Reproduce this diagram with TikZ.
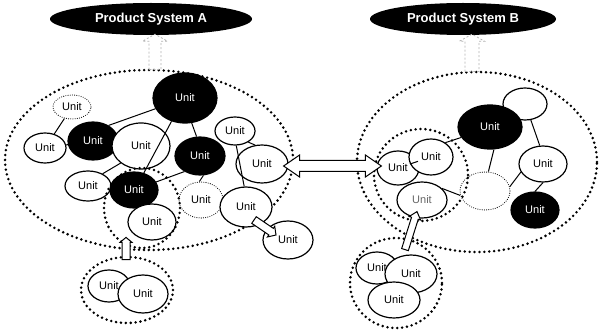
\documentclass[tikz,border=0pt]{standalone}
\usepackage{fontspec}
\setmainfont{Liberation Sans}
\usetikzlibrary{shapes.geometric,calc}
\newcommand\blkarrow[6]{%
  \coordinate (hbx) at ($(#2)!#5!(#1)$);
  \draw[#6] ($(#1)!#3!90:(#2)$) -- ($(hbx)!#3!90:(#2)$) -- ($(hbx)!#4!90:(#2)$) -- (#2)
    -- ($(hbx)!#4!-90:(#2)$) -- ($(hbx)!#3!-90:(#2)$) -- ($(#1)!#3!-90:(#2)$) -- cycle;}
\newcommand\dblarrow[6]{%
  \coordinate (hbx) at ($(#1)!#5!(#2)$);
  \coordinate (hby) at ($(#2)!#5!(#1)$);
  \draw[#6] (#1) -- ($(hbx)!#4!90:(#2)$) -- ($(hbx)!#3!90:(#2)$) -- ($(hby)!#3!90:(#2)$)
    -- ($(hby)!#4!90:(#2)$) -- (#2) -- ($(hby)!#4!-90:(#2)$) -- ($(hby)!#3!-90:(#2)$)
    -- ($(hbx)!#3!-90:(#2)$) -- ($(hbx)!#4!-90:(#2)$) -- cycle;}
\tikzset{
  sz/.style 2 args={minimum width=#1pt, minimum height=#2pt},
  unit/.style={ellipse, draw, line width=1.2pt, fill=white, inner sep=0pt,
    font=\fontsize{11}{11}\selectfont},
  bunit/.style={unit, fill=black, text=white},
  dunit/.style={unit, line width=1.1pt, dash pattern=on 0pt off 2.2pt, line cap=round},
  grp/.style={ellipse, draw, line width=2.8pt, dash pattern=on 0pt off 4.9pt,
    line cap=round, inner sep=0pt},
  psys/.style={ellipse, fill=black, text=white, inner sep=0pt,
    font=\bfseries\fontsize{13}{13}\selectfont},
  link/.style={line width=1pt},
  barrow/.style={draw, fill=white, line width=1pt, line join=miter},
  darrow/.style={draw=gray!60, line width=0.8pt, dash pattern=on 2pt off 2pt},
}
\begin{document}
\begin{tikzpicture}[x=1pt,y=-1pt]
\useasboundingbox (0,0) rectangle (602,331);
% product systems
\node[psys, sz={202}{32}] (pa) at (151,19) {Product System A};
\node[psys, sz={186}{32}] (pb) at (463,19) {Product System B};
% outer groups
\node[grp, sz={288}{180}] (ga) at (149,160) {};
\node[grp, sz={240}{180}] (gb) at (477,162) {};
\node[grp, sz={92}{66}] (gal) at (127,290) {};
\node[grp, sz={92}{90}] (gbl) at (396,283) {};
% units of system A
\node[dunit, sz={38}{24}] (a1) at (72,107) {Unit};
\node[unit, sz={42}{30}] (a2) at (45,148) {Unit};
\node[bunit, sz={50}{38}] (a3) at (93,141) {Unit};
\node[unit, sz={58}{46}] (a4) at (141,146) {Unit};
\node[bunit, sz={64}{50}] (a5) at (185,98) {Unit};
\node[bunit, sz={50}{38}] (a6) at (200,156) {Unit};
\node[unit, sz={40}{28}] (a7) at (235,131) {Unit};
\node[unit, sz={52}{38}] (a8) at (262,164) {Unit};
\node[unit, sz={46}{30}] (a9) at (88,186) {Unit};
\node[bunit, sz={48}{36}] (a10) at (134,190) {Unit};
\node[unit, sz={48}{36}] (a11) at (152,222) {Unit};
\node[dunit, sz={44}{36}] (a12) at (201,200) {Unit};
\node[unit, sz={52}{40}] (a13) at (246,207) {Unit};
\node[unit, sz={50}{38}] (a14) at (288,240) {Unit};
\node[unit, sz={42}{32}] (a15) at (109,286) {Unit};
\node[unit, sz={50}{38}] (a16) at (143,294) {Unit};
% units of system B
\node[unit, sz={44}{32}] (b4) at (525,104) {};
\node[bunit, sz={64}{44}] (b3) at (490,127) {Unit};
\node[unit, sz={42}{34}] (b1) at (398,168) {Unit};
\node[unit, sz={44}{36}] (b2) at (431,157) {Unit};
\node[unit, sz={48}{36}] (b5) at (543,164) {Unit};
\node[bunit, sz={48}{36}] (b6) at (535,210) {Unit};
\node[dunit, sz={50}{38}] (b7) at (485,191) {};
\node[unit, sz={50}{36}, text=black!60] (b8) at (422,200) {Unit};
\node[unit, sz={42}{32}] (c1) at (377,268) {Unit};
\node[unit, sz={52}{38}] (c2) at (411,274) {Unit};
\node[unit, sz={52}{36}] (c3) at (394,300) {Unit};
% inner groups
\node[grp, sz={76}{80}] (gai) at (142,208) {};
\node[grp, sz={94}{92}] (gbi) at (421,175) {};
% links in A
\draw[link] (a1) -- (a2);
\draw[link] (a2) -- (a3);
\draw[link] (a3.45) -- (a5.200);
\draw[link] (a5.240) -- (a10.60);
\draw[link] (a5.-75) -- (a6.100);
\draw[link] (a9.40) -- (a4.220);
\draw[link] (a10.20) -- (a6.225);
\draw[link] (a6.-80) -- (a12.95);
\draw[link] (a7.-40) -- (a8.110);
\draw[link] (a7.-85) -- (a13.95);
% links in B
\draw[link] (b1) -- (b2);
\draw[link] (b2.45) -- (b3.200);
\draw[link] (b3.-80) -- (b7.80);
\draw[link] (b4.-70) -- (b5.100);
\draw[link] (b5.200) -- (b7.10);
\draw[link] (b5.-90) -- (b6.90);
\draw[link] (b8.30) -- (b7.190);
% dashed arrows to product systems
\coordinate (pa0) at ($(ga.north)+(6,1)$);
\coordinate (pa1) at ($(pa.south)+(4,-1)$);
\blkarrow{pa0}{pa1}{6pt}{12.5pt}{7pt}{darrow}
\coordinate (pb0) at ($(gb.north)+(-5,1)$);
\coordinate (pb1) at ($(pb.south)+(9,-1)$);
\blkarrow{pb0}{pb1}{7pt}{12.5pt}{7pt}{darrow}
% block arrows
\coordinate (ab0) at ($(a8.east)+(-5,2)$);
\coordinate (ab1) at ($(b1.west)+(5,-2)$);
\dblarrow{ab0}{ab1}{5.5pt}{11pt}{16pt}{barrow}
\coordinate (ax0) at ($(a13.center)+(8,13)$);
\coordinate (ax1) at ($(a14.center)+(-12,-5)$);
\blkarrow{ax0}{ax1}{4pt}{6.5pt}{6pt}{barrow}
\coordinate (al0) at ($(gal.north)+(-1,4)$);
\coordinate (al1) at ($(gai.south)+(-16,-12)$);
\blkarrow{al0}{al1}{4pt}{6pt}{5pt}{barrow}
\coordinate (bl0) at ($(gbl.north)+(9,13)$);
\coordinate (bl1) at ($(b8.south)+(-5,-7)$);
\blkarrow{bl0}{bl1}{3.5pt}{6pt}{7pt}{barrow}
\end{tikzpicture}
\end{document}
